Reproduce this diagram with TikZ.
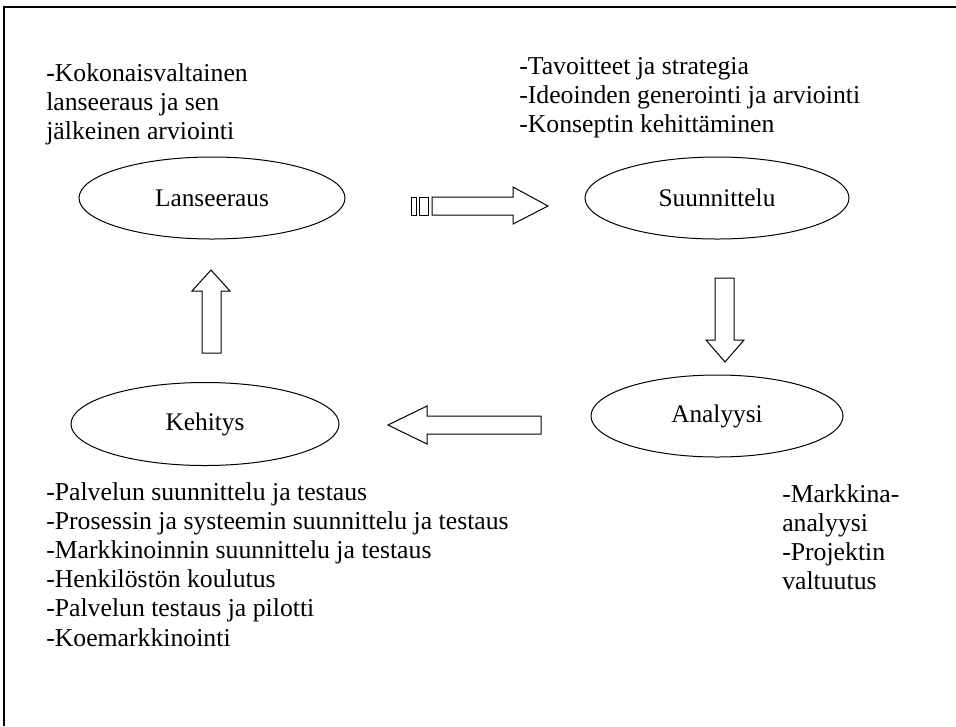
\documentclass[tikz,border=0pt]{standalone}
\usepackage{fontspec}
\setmainfont{Liberation Serif}
\usetikzlibrary{shapes.geometric}
\begin{document}
\begin{tikzpicture}[x=0.75pt,y=-0.75pt,
  stage/.style={draw,ellipse,line width=0.75pt,inner sep=0pt,font=\fontsize{19}{21.75}\selectfont},
  txt/.style={anchor=north west,align=left,inner sep=0pt,font=\fontsize{19.3}{21.9}\selectfont},
  blk/.style={draw,line width=0.75pt}]
\useasboundingbox (0,0) rectangle (956,726);
% frame
\draw[line width=1.5pt] (956,7) -- (4,7);
\draw[line width=1pt] (4,6) -- (4,726);
% stages
\node[stage,minimum width=199.5pt,minimum height=61.5pt] (lan) at (212,198) {Lanseeraus};
\node[stage,minimum width=198pt,minimum height=61.5pt] (suu) at (717,198) {Suunnittelu};
\node[stage,minimum width=189pt,minimum height=61.5pt] (ana) at (717,416) {Analyysi};
\node[stage,minimum width=201pt,minimum height=62.25pt] (keh) at (205,424) {Kehitys};
% texts
\node[txt] (tl) at (46,63) {\textbf{-}Kokonaisvaltainen\\lanseeraus ja sen\\jälkeinen arviointi};
\node[txt] (tr) at (519,57) {-Tavoitteet ja strategia\\-Ideoinden generointi ja arviointi\\-Konseptin kehittäminen};
\node[txt] (bl) at (46,482) {-Palvelun suunnittelu ja testaus\\-Prosessin ja systeemin suunnittelu ja testaus\\-Markkinoinnin suunnittelu ja testaus\\-Henkilöstön koulutus\\-Palvelun testaus ja pilotti\\-Koemarkkinointi};
\node[txt] (br) at (782,484) {-Markkina-\\analyysi\\-Projektin\\valtuutus};
% block arrows
\draw[blk] (411,197) rectangle (416,215);
\draw[blk] (419,197) rectangle (428,215);
\draw[blk] (432,197) -- (513,197) -- (513,187) -- (548,206) -- (513,224) -- (513,215) -- (432,215) -- cycle;
\draw[blk] (715,278) -- (734,278) -- (734,340) -- (744,340) -- (725,362) -- (706,340) -- (715,340) -- cycle;
\draw[blk] (541,416) -- (427,416) -- (427,406) -- (388,425) -- (427,444) -- (427,434) -- (541,434) -- cycle;
\draw[blk] (202,353) -- (202,291) -- (192,291) -- (211,270) -- (230,291) -- (221,291) -- (221,353) -- cycle;
\end{tikzpicture}
\end{document}
